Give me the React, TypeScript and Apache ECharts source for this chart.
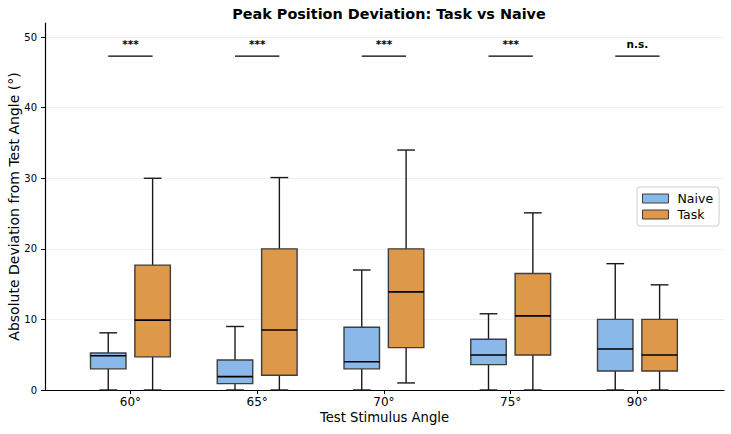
import React, { useEffect, useRef } from "react";
import * as echarts from "echarts";

const categories = ["60°", "65°", "70°", "75°", "90°"];

const naiveMin = [0, 0, 0, 0, 0];
const naiveQ1 = [3.0, 0.9, 3.0, 3.6, 2.7];
const naiveMed = [4.85, 1.9, 4.0, 4.95, 5.8];
const naiveQ3 = [5.25, 4.25, 8.9, 7.2, 10.0];
const naiveMax = [8.1, 9.0, 17.0, 10.8, 17.9];

const taskMin = [0, 0, 1.0, 0, 0];
const taskQ1 = [4.7, 2.1, 6.0, 4.95, 2.7];
const taskMed = [9.9, 8.5, 13.9, 10.5, 4.95];
const taskQ3 = [17.7, 20.0, 20.0, 16.5, 10.0];
const taskMax = [30.0, 30.1, 34.0, 25.1, 14.9];

const sigLabels = ["***", "***", "***", "***", "n.s."];
const sigLevel = [47.3, 47.3, 47.3, 47.3, 47.3];

const yTicks = [0, 10, 20, 30, 40, 50];

const NAIVE_COLOR = "#8ab9e9";
const TASK_COLOR = "#de984a";
const EDGE = "#3d3d3d";
const FONT = "DejaVu Sans";
const OFFSET = 0.175;
const BOX_W = 0.28;

function makeBoxRender(offset: number, fill: string) {
  return (params: any, api: any) => {
    const cat = api.value(0);
    const lo = api.value(1);
    const q1 = api.value(2);
    const med = api.value(3);
    const q3 = api.value(4);
    const hi = api.value(5);
    const xc = cat + offset;
    const pLo = api.coord([xc, lo]);
    const pQ1 = api.coord([xc, q1]);
    const pMed = api.coord([xc, med]);
    const pQ3 = api.coord([xc, q3]);
    const pHi = api.coord([xc, hi]);
    const halfW = api.size([BOX_W, 0])[0] / 2;
    const capHalf = halfW / 2;
    const cx = pLo[0];
    const wStyle = { stroke: "#1a1a1a", lineWidth: 1.4, fill: null };
    return {
      type: "group",
      children: [
        { type: "line", shape: { x1: cx, y1: pQ1[1], x2: cx, y2: pLo[1] }, style: wStyle },
        { type: "line", shape: { x1: cx, y1: pQ3[1], x2: cx, y2: pHi[1] }, style: wStyle },
        { type: "line", shape: { x1: cx - capHalf, y1: pLo[1], x2: cx + capHalf, y2: pLo[1] }, style: wStyle },
        { type: "line", shape: { x1: cx - capHalf, y1: pHi[1], x2: cx + capHalf, y2: pHi[1] }, style: wStyle },
        {
          type: "rect",
          shape: { x: cx - halfW, y: pQ3[1], width: halfW * 2, height: pQ1[1] - pQ3[1] },
          style: { fill, stroke: EDGE, lineWidth: 1.4 },
        },
        {
          type: "line",
          shape: { x1: cx - halfW, y1: pMed[1], x2: cx + halfW, y2: pMed[1] },
          style: { stroke: "#000", lineWidth: 1.6 },
        },
      ],
    };
  };
}

function sigRender(params: any, api: any) {
  const cat = api.value(0);
  const lvl = api.value(1);
  const label = sigLabels[params.dataIndex];
  const pA = api.coord([cat - OFFSET, lvl]);
  const pB = api.coord([cat + OFFSET, lvl]);
  return {
    type: "group",
    children: [
      { type: "line", shape: { x1: pA[0], y1: pA[1], x2: pB[0], y2: pB[1] }, style: { stroke: "#000", lineWidth: 1.2 } },
      {
        type: "text",
        x: (pA[0] + pB[0]) / 2,
        y: pA[1] - 7,
        style: {
          text: label,
          fill: "#000",
          font: `bold 10.5px '${FONT}'`,
          align: "center",
          verticalAlign: "bottom",
        },
      },
    ],
  };
}

export default function App() {
  const ref = useRef<HTMLDivElement>(null);
  useEffect(() => {
    document.body.style.margin = "0";
    if (!ref.current) return;
    const chart = echarts.init(ref.current, null, { renderer: "svg" });
    const naiveData = categories.map((_, i) => [i, naiveMin[i], naiveQ1[i], naiveMed[i], naiveQ3[i], naiveMax[i]]);
    const taskData = categories.map((_, i) => [i, taskMin[i], taskQ1[i], taskMed[i], taskQ3[i], taskMax[i]]);
    const sigData = categories.map((_, i) => [i, sigLevel[i]]);
    chart.setOption({
      animation: false,
      textStyle: { fontFamily: FONT },
      title: {
        text: "Peak Position Deviation: Task vs Naive",
        left: 384,
        top: 2,
        textAlign: "center",
        textStyle: { fontFamily: FONT, fontWeight: "bold", fontSize: 14.4, color: "#000" },
      },
      legend: {
        orient: "vertical",
        left: 637,
        top: 187,
        padding: [5, 6, 5, 5],
        itemGap: 3,
        itemWidth: 26,
        itemHeight: 9,
        borderColor: "#cccccc",
        borderWidth: 1,
        borderRadius: 3,
        backgroundColor: "#fff",
        textStyle: { fontFamily: FONT, fontSize: 12.5, color: "#000", padding: [0, 0, 0, 4] },
        data: [
          { name: "Naive", icon: "rect", itemStyle: { color: NAIVE_COLOR, borderColor: EDGE, borderWidth: 1 } },
          { name: "Task", icon: "rect", itemStyle: { color: TASK_COLOR, borderColor: EDGE, borderWidth: 1 } },
        ],
      },
      grid: { left: 45, top: 23, width: 679, height: 367, containLabel: false, outerBoundsMode: "none" },
      xAxis: {
        type: "value",
        min: -0.674,
        max: 4.683,
        name: "Test Stimulus Angle",
        nameLocation: "middle",
        nameGap: 21,
        nameMoveOverlap: false,
        nameTextStyle: { fontFamily: FONT, fontSize: 13.2, color: "#000" },
        axisLine: { show: true, onZero: false, lineStyle: { color: "#000", width: 1.2 } },
        axisTick: { show: true, length: 4, customValues: [0, 1, 2, 3, 4], lineStyle: { color: "#000" } },
        axisLabel: {
          customValues: [0, 1, 2, 3, 4],
          formatter: (v: number) => categories[Math.round(v)] ?? "",
          fontFamily: FONT,
          fontSize: 12,
          color: "#000",
          margin: 6,
        },
        splitLine: { show: false },
      },
      yAxis: {
        type: "value",
        min: 0,
        max: 52,
        name: "Absolute Deviation from Test Angle (°)",
        nameLocation: "middle",
        nameGap: 24,
        nameMoveOverlap: false,
        nameTextStyle: { fontFamily: FONT, fontSize: 14, color: "#000" },
        axisLine: { show: true, onZero: false, lineStyle: { color: "#000", width: 1.2 } },
        axisTick: { show: true, length: 4, customValues: yTicks, lineStyle: { color: "#000" } },
        axisLabel: { customValues: yTicks, fontFamily: FONT, fontSize: 10, color: "#000", margin: 8 },
        splitLine: { show: true, lineStyle: { color: "#ececec", width: 0.8 } },
        interval: 10,
      },
      series: [
        {
          name: "Naive",
          type: "custom",
          renderItem: makeBoxRender(-OFFSET, NAIVE_COLOR),
          itemStyle: { color: NAIVE_COLOR },
          encode: { x: 0, y: [1, 2, 3, 4, 5] },
          data: naiveData,
          z: 3,
        },
        {
          name: "Task",
          type: "custom",
          renderItem: makeBoxRender(OFFSET, TASK_COLOR),
          itemStyle: { color: TASK_COLOR },
          encode: { x: 0, y: [1, 2, 3, 4, 5] },
          data: taskData,
          z: 3,
        },
        {
          name: "sig",
          type: "custom",
          renderItem: sigRender,
          encode: { x: 0, y: 1 },
          data: sigData,
          z: 4,
        },
      ],
    });
    return () => chart.dispose();
  }, []);
  return <div ref={ref} style={{ width: 731, height: 434 }} />;
}
